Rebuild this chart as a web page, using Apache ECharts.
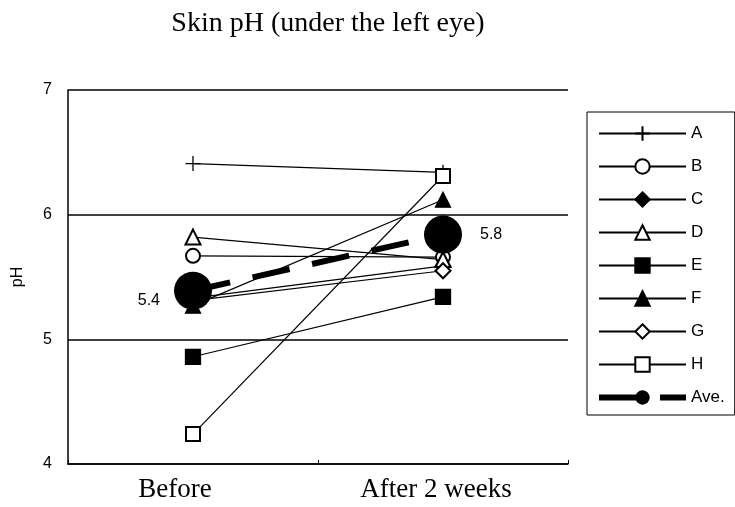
<!DOCTYPE html>
<html>
<head>
<meta charset="utf-8">
<style>
  html, body { margin: 0; padding: 0; background: #fff; }
  #chart { width: 735px; height: 507px; }
</style>
<script src="https://cdn.jsdelivr.net/npm/echarts@6/dist/echarts.min.js"></script>
</head>
<body>
<div id="chart"></div>
<script>
// periods on the x axis
const periods = ['Before', 'After 2 weeks']

// subjects A..H, pH before / after
const subjects = ['A', 'B', 'C', 'D', 'E', 'F', 'G', 'H']
const phA = [6.41, 6.34]
const phB = [5.67, 5.66]
const phC = [5.33, 5.59]
const phD = [5.82, 5.64]
const phE = [4.86, 5.34]
const phF = [5.27, 6.12]
const phG = [5.31, 5.55]
const phH = [4.24, 6.31]
const phAve = [5.39, 5.84]
const aveLabels = ['5.4', '5.8']

const yTicks = [4, 5, 6, 7]

const plusPath = 'path://M0,5L10,5M5,0L5,10'

const markers = {
  A: { symbol: plusPath, size: 15 },
  B: { symbol: 'emptyCircle', size: 14 },
  C: { symbol: 'diamond', size: 15 },
  D: { symbol: 'emptyTriangle', size: 15 },
  E: { symbol: 'rect', size: 15 },
  F: { symbol: 'triangle', size: 15 },
  G: { symbol: 'emptyDiamond', size: 15 },
  H: { symbol: 'emptyRect', size: 14 },
}
const values = { A: phA, B: phB, C: phC, D: phD, E: phE, F: phF, G: phG, H: phH }

const chart = echarts.init(document.getElementById('chart'))

const sans = 'Liberation Sans, Arial, sans-serif'
const serif = 'Liberation Serif, Times New Roman, serif'

const series = []

subjects.forEach((s) => {
  series.push({
    name: s,
    type: 'line',
    data: values[s],
    symbol: markers[s].symbol,
    symbolSize: markers[s].size,
    lineStyle: { color: '#000', width: 1.2 },
    itemStyle: { color: '#000', borderColor: '#000', borderWidth: 1.3 },
    z: 2,
    animation: false,
  })
})

// average drawn on top of the subjects
series.push({
  name: 'Ave.',
  type: 'line',
  data: phAve.map((v, i) => ({
    value: v,
    label: {
      show: true,
      formatter: aveLabels[i],
      position: i === 0 ? 'left' : 'right',
      distance: i === 0 ? 14 : 18,
      offset: i === 0 ? [0, 10] : [0, 0],
      color: '#000',
      fontFamily: sans,
      fontSize: 16,
    },
  })),
  symbol: 'circle',
  symbolSize: 38,
  lineStyle: { color: '#000', width: 6, type: [38, 23] },
  itemStyle: { color: '#000' },
  z: 3,
  animation: false,
})

const legendData = subjects.map((s) => ({ name: s }))
legendData.push({ name: 'Ave.', lineStyle: { width: 6 } })

chart.setOption({
  backgroundColor: '#fff',
  animation: false,
  title: {
    text: 'Skin pH (under the left eye)',
    left: 323,
    textAlign: 'center',
    top: 5,
    textStyle: { fontFamily: serif, fontWeight: 'normal', fontSize: 28, color: '#000' },
  },
  grid: { left: 68, right: 167, top: 90, bottom: 43 },
  legend: {
    orient: 'vertical',
    left: 587,
    top: 112,
    data: legendData,
    itemWidth: 87,
    itemHeight: 18,
    itemGap: 16,
    padding: [13, 10, 9, 9],
    borderColor: '#000',
    borderWidth: 1,
    borderRadius: 0,
    backgroundColor: '#fff',
    textStyle: { fontFamily: sans, fontSize: 17, color: '#000' },
    selectedMode: false,
  },
  xAxis: {
    type: 'category',
    data: periods,
    boundaryGap: true,
    axisLine: { lineStyle: { color: '#000', width: 1.5 } },
    axisTick: { show: true, inside: true, length: 4, lineStyle: { color: '#000' } },
    axisLabel: {
      margin: 12,
      formatter: (v, i) => (i === 0 ? '{a|' + v + '}' : '{b|' + v + '}'),
      rich: {
        a: { fontFamily: serif, fontSize: 27, color: '#000', padding: [0, 36, 0, 0] },
        b: { fontFamily: serif, fontSize: 27, color: '#000', padding: [0, 14, 0, 0] },
      },
    },
    splitLine: { show: false },
  },
  yAxis: {
    type: 'value',
    min: yTicks[0],
    max: yTicks[yTicks.length - 1],
    interval: 1,
    name: 'pH',
    nameLocation: 'middle',
    nameGap: 42,
    nameTextStyle: { fontFamily: sans, fontSize: 16, color: '#000' },
    axisLine: { show: true, lineStyle: { color: '#000', width: 1.5 } },
    axisTick: { show: false },
    axisLabel: { fontFamily: sans, fontSize: 16, color: '#000', margin: 16 },
    splitLine: { show: true, lineStyle: { color: '#000', width: 1.5 } },
  },
  series,
})
</script>
</body>
</html>
